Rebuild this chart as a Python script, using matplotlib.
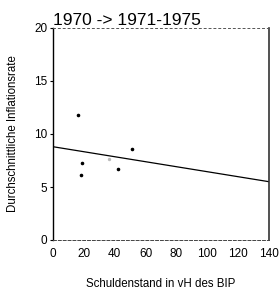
import matplotlib
matplotlib.use("Agg")
import matplotlib.pyplot as plt

# Data
debt = [16, 19, 18, 42, 51.5]
inflation = [11.8, 7.3, 6.1, 6.7, 8.6]
faint_debt = [36.5]
faint_infl = [7.6]
line_x = [0, 140]
line_y = [8.8, 5.5]
xticks = [0, 20, 40, 60, 80, 100, 120, 140]
yticks = [0, 5, 10, 15, 20]

fig = plt.figure(figsize=(2.8, 2.95), dpi=100)
ax = fig.add_axes([53/280, 55/295, 216/280, 212/295])

ax.plot(line_x, line_y, color="black", lw=0.9)
ax.scatter(debt, inflation, s=2.5, color="black", marker="o", zorder=3)
ax.scatter(faint_debt, faint_infl, s=2, color="#bbbbbb", marker="o", zorder=3)

ax.set_xlim(0, 140)
ax.set_ylim(0, 20)
ax.set_xticks(xticks)
ax.set_yticks(yticks)
ax.tick_params(axis="x", length=0, pad=6, labelsize=8.5)
ax.tick_params(axis="y", length=2, width=0.8, pad=2, labelsize=8.5, direction="out")

ax.spines["left"].set_linewidth(1.0)
ax.spines["right"].set_linewidth(1.2)
ax.spines["right"].set_color("#333333")
ax.spines["top"].set_linestyle((0, (2, 3)))
ax.spines["top"].set_linewidth(0.7)
ax.spines["top"].set_color("#555555")
ax.spines["bottom"].set_linestyle((0, (3, 2)))
ax.spines["bottom"].set_linewidth(0.7)
ax.spines["bottom"].set_color("#444444")

ax.set_title("1970 -> 1971-1975", loc="left", fontsize=12.5, pad=2,
             family="Liberation Sans")
ax.set_xlabel("Schuldenstand in vH des BIP", fontsize=8.3, labelpad=13,
              family="Liberation Sans")
ax.set_ylabel("Durchschnittliche Inflationsrate", fontsize=8.3, labelpad=11,
              family="Liberation Sans")
for lbl in ax.get_xticklabels() + ax.get_yticklabels():
    lbl.set_family("Liberation Sans")

fig.savefig("out.png", dpi=100)
